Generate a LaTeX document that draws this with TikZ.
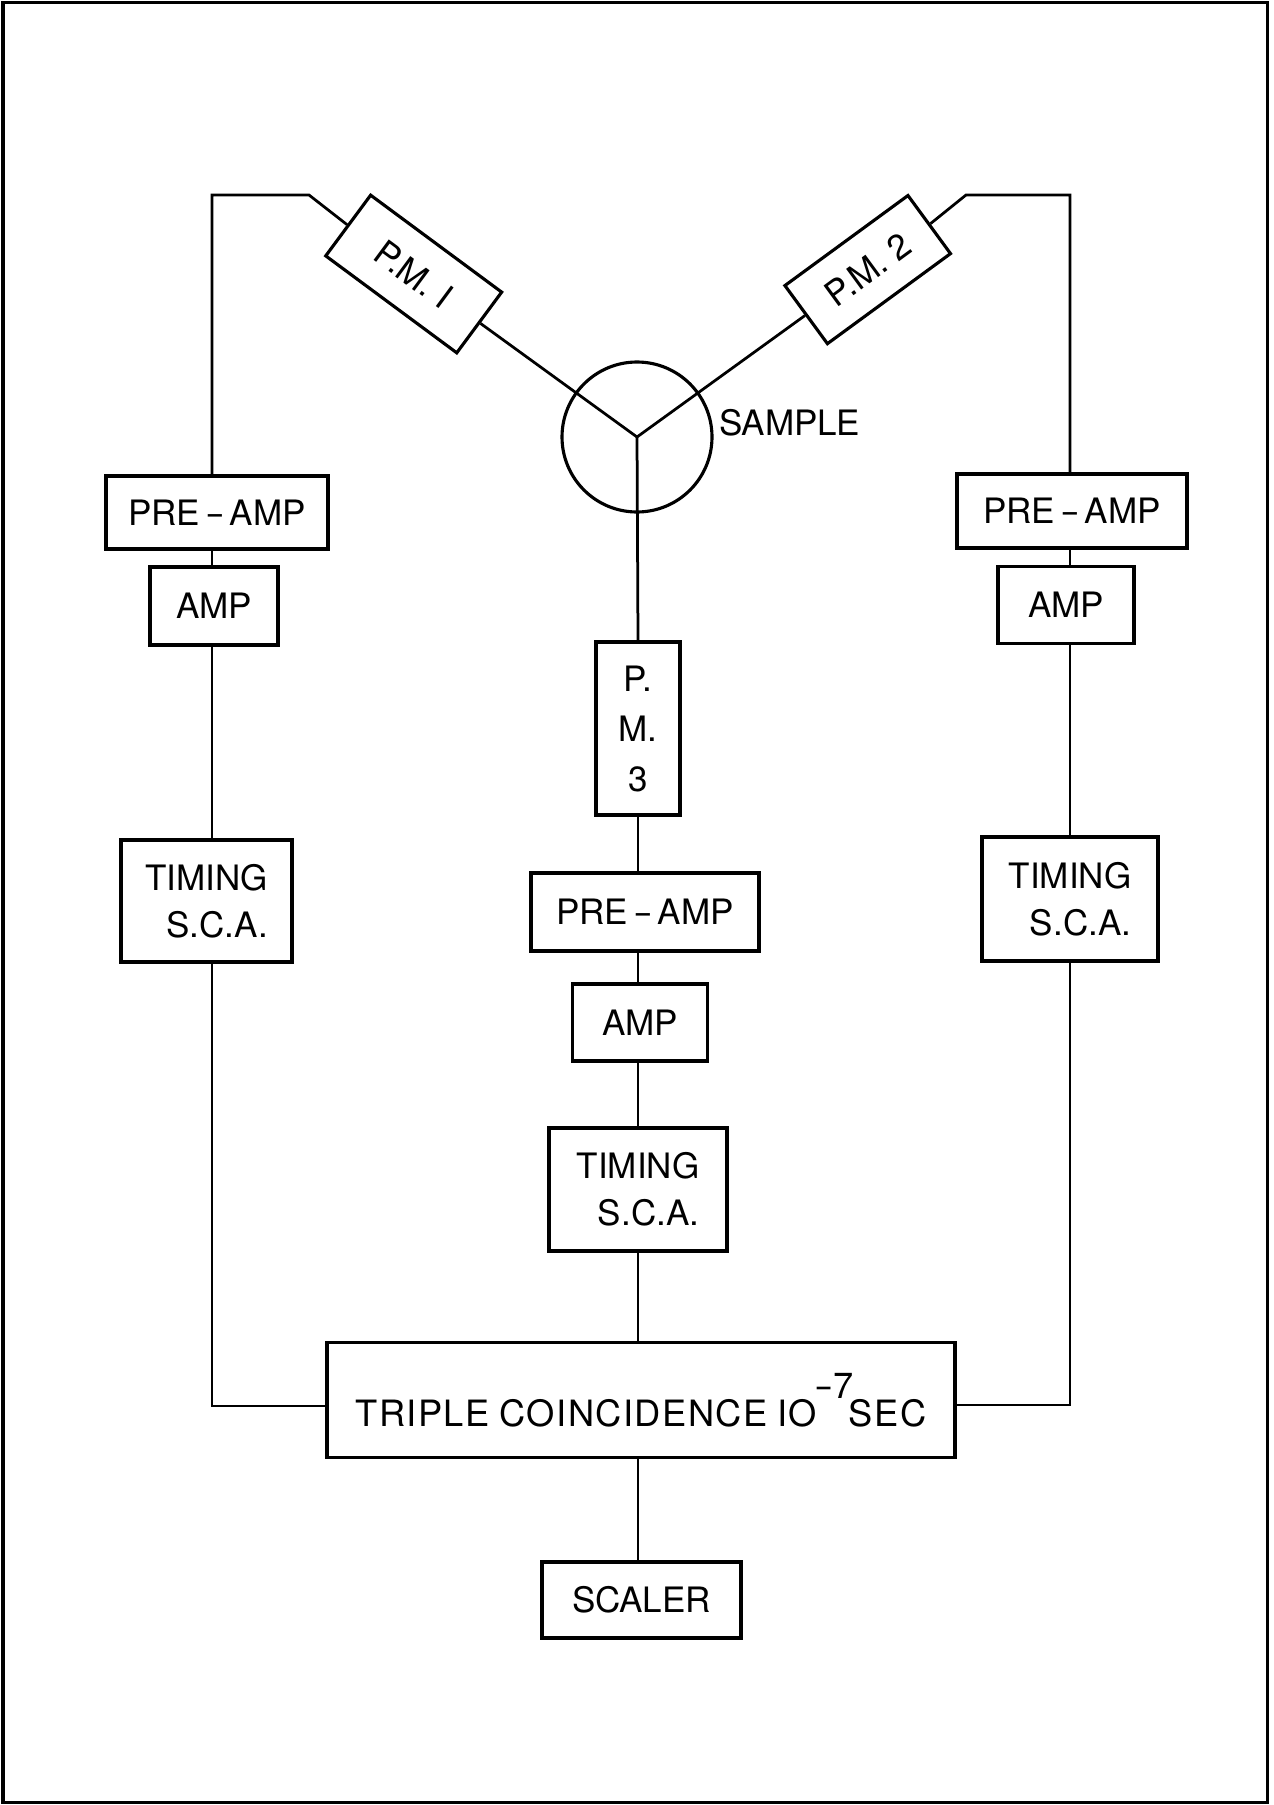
\documentclass[tikz,border=0pt]{standalone}
\usepackage{fontspec}
\setmainfont{TeX Gyre Heros}
\newcommand{\longdash}{\kern2pt\scalebox{1.7}[1]{-}\kern2pt}
\begin{document}
\begin{tikzpicture}[x=0.4pt,y=-0.4pt,
  txt/.style={font=\fontsize{14}{18.8}\selectfont},
  box/.style={draw,line width=1.25pt,inner sep=0pt,txt},
  sz/.style 2 args={minimum width=#1*0.4pt,minimum height=#2*0.4pt},
  wire/.style={line width=1.1pt}]
\useasboundingbox (0,0) rectangle (1273,1805);
\draw[line width=1.2pt] (3,3) rectangle (1267,1802);

% detectors and sample
\node[draw,circle,line width=1.25pt,minimum size=150*0.4pt,inner sep=0pt] (sample) at (637,437) {};
\node[txt,anchor=west,inner sep=1pt] (samplelabel) at (716,423) {SAMPLE};
\node[box,sz={163}{75.5},rotate=-36.5] (pm1) at (413.7,274) {P.M.\kern4pt I};
\node[box,sz={152.5}{72},rotate=36.2] (pm2) at (867.7,269.6) {P.M.\kern4pt 2};
\node[box,sz={84}{173},align=center,font=\fontsize{14}{20}\selectfont] (pm3) at (638,728.5) {P.\\M.\\3};

% left chain
\node[box,sz={222}{73}] (pre1) at (217,512.5) {PRE\longdash AMP};
\node[box,sz={128}{78}] (amp1) at (214,606) {AMP};
\node[box,sz={171}{122},align=right] (tim1) at (206.5,901) {TIMING\\S.C.A.};

% right chain
\node[box,sz={230}{74}] (pre2) at (1072,511) {PRE\longdash AMP};
\node[box,sz={136}{77}] (amp2) at (1066,605) {AMP};
\node[box,sz={176}{124},align=right] (tim2) at (1070,899) {TIMING\\S.C.A.};

% centre chain
\node[box,sz={228}{78}] (pre3) at (645,912) {PRE\longdash AMP};
\node[box,sz={135.5}{77}] (amp3) at (640,1022.5) {AMP};
\node[box,sz={178}{123},align=right] (tim3) at (638,1189.5) {TIMING\\S.C.A.};

\node[box,sz={628}{114.5},font=\fontsize{14.5}{17}\selectfont\addfontfeature{LetterSpace=4}] (trip) at (641,1400)
  {TRIPLE\kern4pt COINCIDENCE\kern4pt IO\kern-1pt\raisebox{11pt}{\scalebox{1.6}[1]{-}7}\kern-2pt SEC};
\node[box,sz={199}{76}] (scaler) at (641.5,1600) {SCALER};

% wires
\coordinate (cL1) at (309,195);
\coordinate (cL0) at (212,195);
\coordinate (cR1) at (966,195);
\coordinate (cR0) at (1070,195);
\coordinate (cC) at (638,437);

\draw[wire] (pm1.west) -- (cL1) -- (cL0) -- (cL0 |- pre1.north);
\draw[wire] (cL0 |- pre1.south) -- (cL0 |- amp1.north);
\draw[wire] (cL0 |- amp1.south) -- (cL0 |- tim1.north);
\draw[wire] (cL0 |- tim1.south) -- (212,1406) -- (trip.west |- 0,1406);

\draw[wire] (pm2.east) -- (cR1) -- (cR0) -- (cR0 |- pre2.north);
\draw[wire] (cR0 |- pre2.south) -- (cR0 |- amp2.north);
\draw[wire] (cR0 |- amp2.south) -- (cR0 |- tim2.north);
\draw[wire] (cR0 |- tim2.south) -- (1070,1405) -- (trip.east |- 0,1405);

\draw[wire] (pm1.east) -- (sample.center);
\draw[wire] (pm2.west) -- (sample.center);
\draw[wire] (sample.center) -- (cC |- pm3.north);
\draw[wire] (cC |- pm3.south) -- (cC |- pre3.north);
\draw[wire] (cC |- pre3.south) -- (cC |- amp3.north);
\draw[wire] (cC |- amp3.south) -- (cC |- tim3.north);
\draw[wire] (cC |- tim3.south) -- (cC |- trip.north);
\draw[wire] (cC |- trip.south) -- (cC |- scaler.north);
\end{tikzpicture}
\end{document}
